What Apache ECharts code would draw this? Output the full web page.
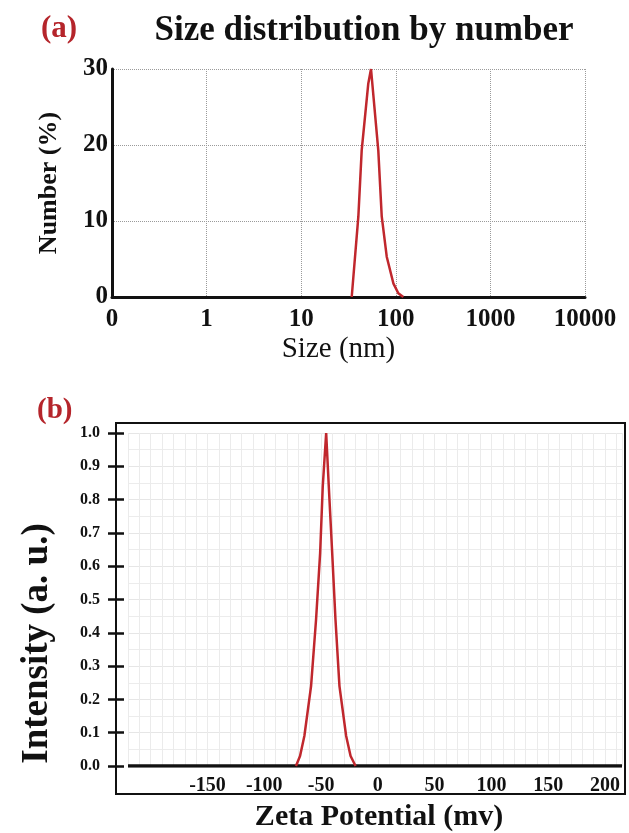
<!DOCTYPE html>
<html>
<head>
<meta charset="utf-8">
<script src="https://cdn.jsdelivr.net/npm/echarts@6/dist/echarts.min.js"></script>
<style>
html,body{margin:0;padding:0;background:#fff;}
#chart{width:629px;height:833px;}
</style>
</head>
<body>
<div id="chart"></div>
<script>
// Panel (a): size distribution by number
var sizeNm = [34.2, 40.2, 43.6, 51.2, 54.7, 65.3, 71.0, 80.2, 94.2, 106.3, 120];
var numberPct = [0, 10.6, 19.3, 28.1, 30, 19.3, 10.6, 5.3, 1.8, 0.5, 0];
var numberTicks = [0, 10, 20, 30];

// Panel (b): zeta potential
var zetaMv = [-72.1, -68.5, -64.7, -58.8, -54.4, -50.8, -48.5, -45.5, -43.2, -40.2, -37.3, -33.8, -27.9, -24.0, -19.6];
var intensity = [0, 0.03, 0.09, 0.24, 0.44, 0.64, 0.84, 1.0, 0.84, 0.64, 0.44, 0.24, 0.09, 0.03, 0];
var zetaBaseX = [-220, 215];
var zetaBaseY = [0, 0];
var zetaLabels = [-150, -100, -50, 0, 50, 100, 150, 200];

var serif = '"Liberation Serif", "Times New Roman", serif';
var red = '#c0272d';

function pairs(xs, ys) { return xs.map(function (x, i) { return [x, ys[i]]; }); }

var chart = echarts.init(document.getElementById('chart'), null, {renderer: 'canvas'});
chart.setOption({
  backgroundColor: '#fff',
  animation: false,
  title: [
    {text: '(a)', left: 36, top: 8, textStyle: {fontFamily: serif, fontWeight: 'bold', fontSize: 31, color: '#b5252b'}},
    {text: 'Size distribution by number', left: 359, textAlign: 'center', top: 8, textStyle: {fontFamily: serif, fontWeight: 'bold', fontSize: 35, color: '#111'}},
    {text: '(b)', left: 32, top: 391, textStyle: {fontFamily: serif, fontWeight: 'bold', fontSize: 29, color: '#b5252b'}}
  ],
  graphic: [
    {type: 'rect', shape: {x: 116, y: 423, width: 509, height: 371}, style: {fill: 'none', stroke: '#111', lineWidth: 2}, z: 10}
  ],
  grid: [
    {left: 112, right: 44, top: 69, bottom: 536},
    {left: 128, right: 7, top: 433, bottom: 66}
  ],
  xAxis: [
    {
      gridIndex: 0, type: 'log', logBase: 10, min: 0.1, max: 10000,
      name: 'Size (nm)', nameLocation: 'middle', nameGap: 38,
      nameTextStyle: {fontFamily: serif, fontSize: 29, color: '#111', padding: [0, 20, 0, 0]},
      axisLine: {show: true, onZero: false, lineStyle: {color: '#111', width: 3}},
      axisTick: {show: false},
      axisLabel: {fontFamily: serif, fontWeight: 'bold', fontSize: 25, color: '#111', margin: 10,
        formatter: function (v) { return v < 1 ? '0' : String(Math.round(v)); }},
      splitLine: {show: true, lineStyle: {color: '#9a9a9a', type: 'dotted', width: 1}},
      minorTick: {show: false}
    },
    {
      gridIndex: 1, type: 'value', min: -220, max: 215, interval: 10,
      name: 'Zeta Potential (mv)', nameLocation: 'middle', nameGap: 36,
      nameTextStyle: {fontFamily: serif, fontWeight: 'bold', fontSize: 30, color: '#111', padding: [0, 0, 0, 8]},
      axisLine: {show: false, onZero: false},
      axisTick: {show: false},
      axisLabel: {interval: 0, fontFamily: serif, fontWeight: 'bold', fontSize: 20, color: '#111', margin: 10,
        showMinLabel: true, showMaxLabel: true,
        formatter: function (v) { return zetaLabels.indexOf(v) >= 0 ? String(v) : ''; }},
      splitLine: {show: true, lineStyle: {color: '#ebebeb', width: 1}}
    }
  ],
  yAxis: [
    {
      gridIndex: 0, type: 'value', min: 0, max: 30, interval: 10,
      name: 'Number (%)', nameLocation: 'middle', nameGap: 50,
      nameTextStyle: {fontFamily: serif, fontWeight: 'bold', fontSize: 26, color: '#111'},
      axisLine: {show: true, onZero: false, lineStyle: {color: '#111', width: 3}},
      axisTick: {show: false},
      axisLabel: {fontFamily: serif, fontWeight: 'bold', fontSize: 25, color: '#111', margin: 4},
      splitLine: {show: true, lineStyle: {color: '#9a9a9a', type: 'dotted', width: 1}}
    },
    {
      gridIndex: 1, type: 'value', position: 'left', min: 0, max: 1, interval: 0.1, offset: 12,
      name: 'Intensity (a. u.)', nameLocation: 'middle', nameGap: 60,
      nameTextStyle: {fontFamily: serif, fontWeight: 'bold', fontSize: 37, color: '#111', padding: [0, 88, 0, 0]},
      axisLine: {show: true, onZero: false, lineStyle: {color: '#111', width: 2}},
      axisTick: {show: true, length: 8, lineStyle: {color: '#111', width: 2.5}},
      axisLabel: {fontFamily: serif, fontWeight: 'bold', fontSize: 16, color: '#111', margin: 16,
        formatter: function (v) { return v.toFixed(1); }},
      splitLine: {show: true, lineStyle: {color: '#e6e6e6', width: 1}},
      minorTick: {show: false, splitNumber: 2},
      minorSplitLine: {show: true, lineStyle: {color: '#ececec', width: 1}}
    },
    {
      gridIndex: 1, type: 'value', position: 'left', min: 0, max: 1, interval: 0.1, offset: 12,
      axisLine: {show: false, onZero: false},
      axisTick: {show: true, inside: true, length: 8, lineStyle: {color: '#111', width: 2.5}},
      axisLabel: {show: false},
      splitLine: {show: false}
    }
  ],
  series: [
    {
      type: 'line', xAxisIndex: 0, yAxisIndex: 0, data: pairs(sizeNm, numberPct),
      showSymbol: false, lineStyle: {color: red, width: 2.5}, z: 5
    },
    {
      type: 'line', xAxisIndex: 1, yAxisIndex: 1, data: pairs(zetaBaseX, zetaBaseY),
      showSymbol: false, lineStyle: {color: '#111', width: 3.5}, z: 4
    },
    {
      type: 'line', xAxisIndex: 1, yAxisIndex: 1, data: pairs(zetaMv, intensity),
      showSymbol: false, lineStyle: {color: red, width: 2.5}, z: 5
    }
  ]
});
</script>
</body>
</html>
